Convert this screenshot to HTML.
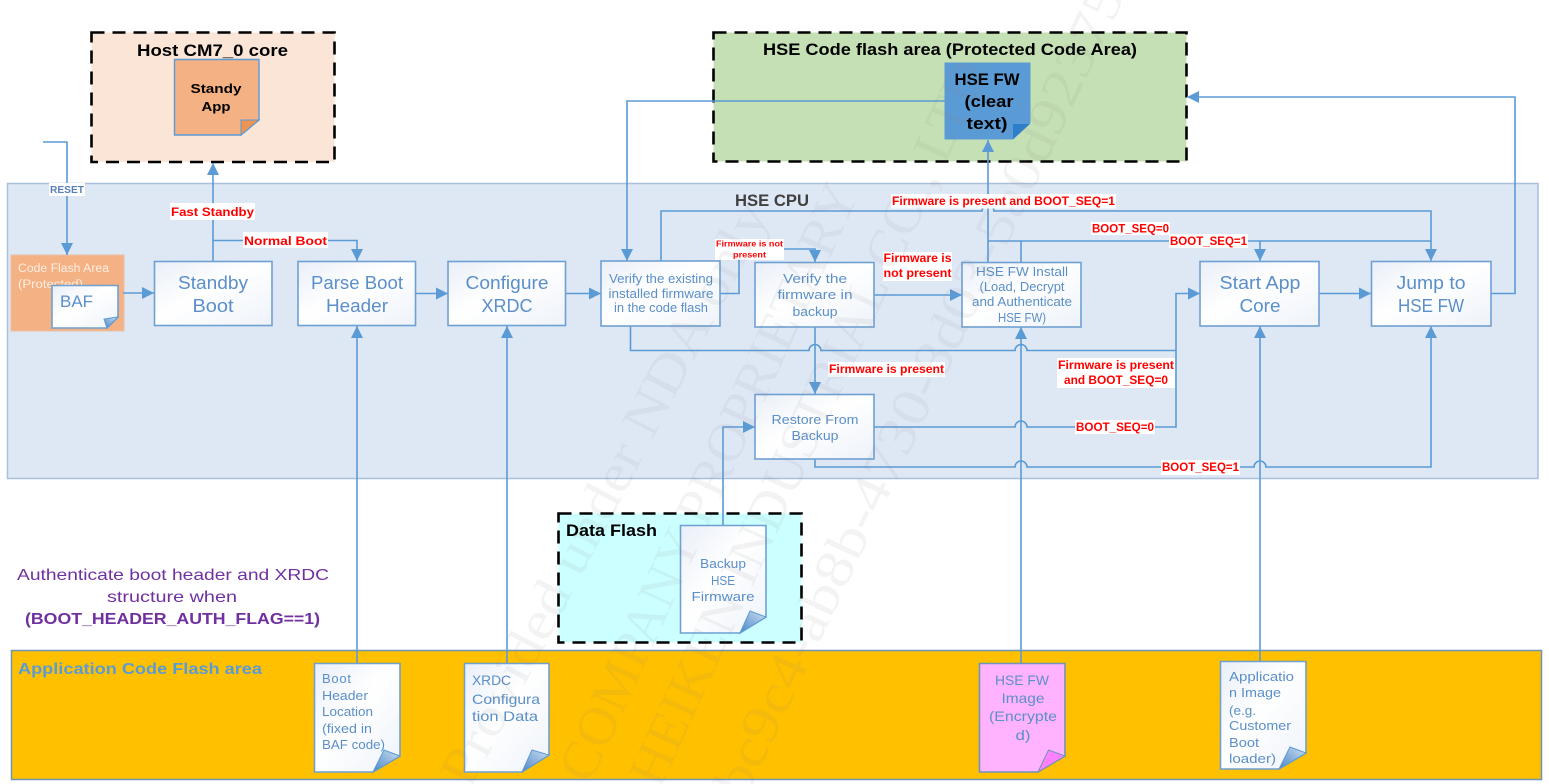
<!DOCTYPE html>
<html>
<head>
<meta charset="utf-8">
<style>
html,body{margin:0;padding:0;background:#fff;width:1549px;height:784px;overflow:hidden}
svg{display:block}
text{font-family:"Liberation Sans",sans-serif}
.b{fill:#5b8fc9;text-anchor:middle}
.r{fill:#f00;font-weight:bold;text-anchor:middle;font-size:11.5px}
.w{fill:#fff}
.l{fill:none;stroke:#5b9bd5;stroke-width:1.6}
.box{fill:url(#g);stroke:#6fa0d2;stroke-width:1.6}
.wm{font-family:"Liberation Serif",serif;fill:#808080;font-size:54px}
</style>
</head>
<body>
<svg width="1549" height="784" viewBox="0 0 1549 784" xmlns="http://www.w3.org/2000/svg">
<defs>
<linearGradient id="g" x1="0" y1="0" x2="1" y2="1"><stop offset="0" stop-color="#e9eff8"/><stop offset=".45" stop-color="#fff"/><stop offset="1" stop-color="#eef3fa"/></linearGradient>
<linearGradient id="f" x1="0" y1="1" x2="1" y2="0"><stop offset="0" stop-color="#4a86c5"/><stop offset="1" stop-color="#cfe0f2"/></linearGradient>
<marker id="a" markerUnits="userSpaceOnUse" markerWidth="13" markerHeight="13" refX="12" refY="6.5" orient="auto"><path d="M0 0.5L12 6.5L0 12.5z" fill="#5b9bd5"/></marker>
</defs>

<!-- containers -->
<rect x="7.5" y="183.5" width="1530.5" height="295" fill="#dee8f5" stroke="#a9bfdc" stroke-width="1.5"/>
<rect x="91.5" y="32.5" width="243" height="129.5" fill="#fbe5d6" stroke="#000" stroke-width="2.6" stroke-dasharray="13 8"/>
<rect x="713.5" y="32.5" width="473" height="129" fill="#c5e0b4" stroke="#000" stroke-width="2.6" stroke-dasharray="13 8"/>
<rect x="558.5" y="513.5" width="243" height="129" fill="#ccffff" stroke="#000" stroke-width="2.6" stroke-dasharray="13 8"/>
<rect x="11.5" y="650.5" width="1530" height="129" fill="#ffc000" stroke="#6f94b8" stroke-width="1.5"/>

<text x="137" y="56" font-size="16.5" font-weight="bold" textLength="151" lengthAdjust="spacingAndGlyphs">Host CM7_0 core</text>
<text x="763" y="55" font-size="16.5" font-weight="bold" textLength="374" lengthAdjust="spacingAndGlyphs">HSE Code flash area (Protected Code Area)</text>
<text x="735" y="206" font-size="16.5" font-weight="bold" fill="#404040" textLength="74" lengthAdjust="spacingAndGlyphs">HSE CPU</text>
<text x="566" y="536" font-size="16.5" font-weight="bold" textLength="91" lengthAdjust="spacingAndGlyphs">Data Flash</text>
<text x="18" y="674" font-size="15.5" font-weight="bold" fill="#5b9bd5" textLength="244" lengthAdjust="spacingAndGlyphs">Application Code Flash area</text>

<!-- code flash -->
<rect x="11" y="255" width="113" height="76" fill="#f4b183" stroke="#e7c1a5"/>
<text x="18" y="272" font-size="11.5" fill="#fdeee3" textLength="91" lengthAdjust="spacingAndGlyphs">Code Flash Area</text>
<text x="18" y="288" font-size="11.5" fill="#fdeee3" textLength="65" lengthAdjust="spacingAndGlyphs">(Protected)</text>

<!-- connectors -->
<path class="l" d="M43 142H67V255" marker-end="url(#a)"/>
<path class="l" d="M123 293H154" marker-end="url(#a)"/>
<path class="l" d="M213 261V163" marker-end="url(#a)"/>
<path class="l" d="M213 240.500H357V261" marker-end="url(#a)"/>
<path class="l" d="M415 293.500H448" marker-end="url(#a)"/>
<path class="l" d="M565 293.500H601" marker-end="url(#a)"/>
<path class="l" d="M661 261V211H982a6 6 0 0 1 12 0H1431V261" marker-end="url(#a)"/>
<path class="l" d="M945 101H627V261" marker-end="url(#a)"/>
<path class="l" d="M720 293.500H739V249H815V262" marker-end="url(#a)"/>
<path class="l" d="M630.500 326V350.500H809a6 6 0 0 1 12 0H1015a6 6 0 0 1 12 0H1176"/>
<path class="l" d="M815 327V394" marker-end="url(#a)"/>
<path class="l" d="M874 295H962" marker-end="url(#a)"/>
<path class="l" d="M988 262V140" marker-end="url(#a)"/>
<path class="l" d="M988 241H1431"/>
<path class="l" d="M1021 262V241"/>
<path class="l" d="M1260 241V261" marker-end="url(#a)"/>
<path class="l" d="M874 427H1015a6 6 0 0 1 12 0H1176V293.500H1200" marker-end="url(#a)"/>
<path class="l" d="M815 459V467H1015a6 6 0 0 1 12 0H1254a6 6 0 0 1 12 0H1431V326" marker-end="url(#a)"/>
<path class="l" d="M1319 293.500H1371" marker-end="url(#a)"/>
<path class="l" d="M1491 293.500H1515V97H1187" marker-end="url(#a)"/>
<path class="l" d="M357 664V326" marker-end="url(#a)"/>
<path class="l" d="M507 664V326" marker-end="url(#a)"/>
<path class="l" d="M1021 663V327" marker-end="url(#a)"/>
<path class="l" d="M1260 661V326" marker-end="url(#a)"/>
<path class="l" d="M723 525V427H755" marker-end="url(#a)"/>

<!-- process boxes -->
<rect class="box" x="154.500" y="261.500" width="117.500" height="64"/>
<text class="b" x="213" y="289" font-size="18" textLength="70" lengthAdjust="spacingAndGlyphs">Standby</text>
<text class="b" x="213" y="312" font-size="18" textLength="41" lengthAdjust="spacingAndGlyphs">Boot</text>
<rect class="box" x="298" y="261.500" width="117.500" height="64"/>
<text class="b" x="357" y="289" font-size="18" textLength="92" lengthAdjust="spacingAndGlyphs">Parse Boot</text>
<text class="b" x="357" y="312" font-size="18" textLength="62" lengthAdjust="spacingAndGlyphs">Header</text>
<rect class="box" x="448" y="261.500" width="117.500" height="64"/>
<text class="b" x="507" y="289" font-size="18" textLength="83" lengthAdjust="spacingAndGlyphs">Configure</text>
<text class="b" x="507" y="312" font-size="18" textLength="51" lengthAdjust="spacingAndGlyphs">XRDC</text>
<rect class="box" x="601" y="261" width="119" height="65"/>
<text class="b" x="661" y="283" font-size="12.500" textLength="104" lengthAdjust="spacingAndGlyphs">Verify the existing</text>
<text class="b" x="661" y="298" font-size="12.500" textLength="105" lengthAdjust="spacingAndGlyphs">installed firmware</text>
<text class="b" x="661" y="312" font-size="12.500" textLength="94" lengthAdjust="spacingAndGlyphs">in the code flash</text>
<rect class="box" x="755" y="262.500" width="119" height="64.500"/>
<text class="b" x="815" y="283" font-size="13" textLength="64" lengthAdjust="spacingAndGlyphs">Verify the</text>
<text class="b" x="815" y="299" font-size="13" textLength="75" lengthAdjust="spacingAndGlyphs">firmware in</text>
<text class="b" x="815" y="316" font-size="13" textLength="45" lengthAdjust="spacingAndGlyphs">backup</text>
<rect class="box" x="755" y="394.500" width="119" height="64.500"/>
<text class="b" x="815" y="424" font-size="13" textLength="87" lengthAdjust="spacingAndGlyphs">Restore From</text>
<text class="b" x="815" y="440" font-size="13" textLength="47" lengthAdjust="spacingAndGlyphs">Backup</text>
<rect class="box" x="962" y="262.500" width="119" height="64.500"/>
<text class="b" x="1022" y="276" font-size="12.500" textLength="92" lengthAdjust="spacingAndGlyphs">HSE FW Install</text>
<text class="b" x="1022" y="291" font-size="12.500" textLength="85" lengthAdjust="spacingAndGlyphs">(Load, Decrypt</text>
<text class="b" x="1022" y="306" font-size="12.500" textLength="100" lengthAdjust="spacingAndGlyphs">and Authenticate</text>
<text class="b" x="1022" y="322" font-size="12.500" textLength="48" lengthAdjust="spacingAndGlyphs">HSE FW)</text>
<rect class="box" x="1200" y="261.500" width="119" height="64.500"/>
<text class="b" x="1260" y="289" font-size="18" textLength="81" lengthAdjust="spacingAndGlyphs">Start App</text>
<text class="b" x="1260" y="312" font-size="18" textLength="41" lengthAdjust="spacingAndGlyphs">Core</text>
<rect class="box" x="1371.500" y="261.500" width="119.500" height="64.500"/>
<text class="b" x="1431" y="289" font-size="18" textLength="69" lengthAdjust="spacingAndGlyphs">Jump to</text>
<text class="b" x="1431" y="312" font-size="18" textLength="66" lengthAdjust="spacingAndGlyphs">HSE FW</text>

<!-- notes -->
<path d="M174.500 59.500H259V120L241 135H174.500z" fill="#f4b183" stroke="#5b9bd5" stroke-width="1.4"/>
<path d="M241 135V120H259z" fill="#ed9454" stroke="#5b9bd5"/>
<text x="216" y="93" font-size="13" font-weight="bold" text-anchor="middle" textLength="51" lengthAdjust="spacingAndGlyphs">Standy</text>
<text x="216" y="111" font-size="13" font-weight="bold" text-anchor="middle" textLength="29" lengthAdjust="spacingAndGlyphs">App</text>

<path d="M945 63H1030V123L1013 139H945z" fill="#5b9bd5" stroke="#5b9bd5"/>
<path d="M1013 139V124H1030z" fill="#2e7fcb"/>
<text x="987" y="85" font-size="16.500" font-weight="bold" text-anchor="middle" textLength="65" lengthAdjust="spacingAndGlyphs">HSE FW</text>
<text x="989" y="107" font-size="16.500" font-weight="bold" text-anchor="middle" textLength="49" lengthAdjust="spacingAndGlyphs">(clear</text>
<text x="987" y="129" font-size="16.500" font-weight="bold" text-anchor="middle" textLength="41" lengthAdjust="spacingAndGlyphs">text)</text>

<path class="box" d="M52 285.500H118V317L107 328H52z"/>
<path d="M107 328L104 319L118 317z" fill="url(#f)" stroke="#5b9bd5"/>
<text x="60" y="307" font-size="17" fill="#5b8fc9" textLength="33" lengthAdjust="spacingAndGlyphs">BAF</text>

<path class="box" d="M680.500 525.500H766V617L740 633H680.500z"/>
<path d="M740 633L750 611L766 617z" fill="url(#f)" stroke="#5b9bd5"/>
<text class="b" x="723" y="568" font-size="13" textLength="46" lengthAdjust="spacingAndGlyphs">Backup</text>
<text class="b" x="723" y="585" font-size="13" textLength="24" lengthAdjust="spacingAndGlyphs">HSE</text>
<text class="b" x="723" y="601" font-size="13" textLength="63" lengthAdjust="spacingAndGlyphs">Firmware</text>

<path class="box" d="M314.500 663.500H400V756L373 772H314.500z"/>
<path d="M373 772L384 750L400 756z" fill="url(#f)" stroke="#5b9bd5"/>
<text x="322" y="683" font-size="13" fill="#5b8fc9" textLength="29" lengthAdjust="spacing">Boot</text>
<text x="322" y="700" font-size="13" fill="#5b8fc9" textLength="46" lengthAdjust="spacingAndGlyphs">Header</text>
<text x="322" y="716" font-size="13" fill="#5b8fc9" textLength="51" lengthAdjust="spacingAndGlyphs">Location</text>
<text x="322" y="733" font-size="13" fill="#5b8fc9" textLength="50" lengthAdjust="spacingAndGlyphs">(fixed in</text>
<text x="322" y="749" font-size="13" fill="#5b8fc9" textLength="63" lengthAdjust="spacingAndGlyphs">BAF code)</text>

<path class="box" d="M464.500 663.500H549V755L522 772H464.500z"/>
<path d="M522 772L532 750L549 755z" fill="url(#f)" stroke="#5b9bd5"/>
<text x="472" y="685" font-size="14" fill="#5b8fc9" textLength="39" lengthAdjust="spacingAndGlyphs">XRDC</text>
<text x="472" y="704" font-size="14" fill="#5b8fc9" textLength="68" lengthAdjust="spacingAndGlyphs">Configura</text>
<text x="472" y="721" font-size="14" fill="#5b8fc9" textLength="66" lengthAdjust="spacingAndGlyphs">tion Data</text>

<path d="M979.500 663.500H1065V756L1038 772H979.500z" fill="#ffb3ff" stroke="#6f94b8" stroke-width="1.6"/>
<path d="M1038 772L1048.500 750L1065 756z" fill="#ff80ff" stroke="#6f94b8"/>
<text class="b" x="1022" y="685" font-size="14" textLength="54" lengthAdjust="spacingAndGlyphs">HSE FW</text>
<text class="b" x="1023" y="703" font-size="14" textLength="43" lengthAdjust="spacingAndGlyphs">Image</text>
<text class="b" x="1023" y="721" font-size="14" textLength="68" lengthAdjust="spacingAndGlyphs">(Encrypte</text>
<text class="b" x="1023" y="740" font-size="14" textLength="15" lengthAdjust="spacingAndGlyphs">d)</text>

<path class="box" d="M1220.500 661.500H1306V753L1279 769H1220.500z"/>
<path d="M1279 769L1290 747L1306 753z" fill="url(#f)" stroke="#5b9bd5"/>
<text x="1229" y="681" font-size="13" fill="#5b8fc9" textLength="65" lengthAdjust="spacingAndGlyphs">Applicatio</text>
<text x="1229" y="697" font-size="13" fill="#5b8fc9" textLength="52" lengthAdjust="spacingAndGlyphs">n Image</text>
<text x="1229" y="715" font-size="13" fill="#5b8fc9" textLength="27" lengthAdjust="spacingAndGlyphs">(e.g.</text>
<text x="1229" y="730" font-size="13" fill="#5b8fc9" textLength="62" lengthAdjust="spacingAndGlyphs">Customer</text>
<text x="1229" y="747" font-size="13" fill="#5b8fc9" textLength="30" lengthAdjust="spacingAndGlyphs">Boot</text>
<text x="1229" y="763" font-size="13" fill="#5b8fc9" textLength="47" lengthAdjust="spacingAndGlyphs">loader)</text>

<!-- connector labels -->
<rect class="w" x="49" y="183" width="36" height="13"/>
<text x="67" y="193" font-size="10.500" font-weight="bold" fill="#5b80b8" text-anchor="middle" textLength="34" lengthAdjust="spacingAndGlyphs">RESET</text>
<rect class="w" x="170" y="203" width="85" height="17"/>
<text class="r" x="212.500" y="216" textLength="83" lengthAdjust="spacingAndGlyphs">Fast Standby</text>
<rect class="w" x="243" y="232" width="85" height="16"/>
<text class="r" x="285.500" y="245" textLength="83" lengthAdjust="spacingAndGlyphs">Normal Boot</text>
<rect class="w" x="891" y="194" width="225" height="14.500"/>
<text class="r" x="1003.500" y="205" textLength="223" lengthAdjust="spacingAndGlyphs">Firmware is present and BOOT_SEQ=1</text>
<rect class="w" x="715" y="239" width="69" height="21"/>
<text class="r" x="749.500" y="246.500" style="font-size:8px" textLength="67" lengthAdjust="spacingAndGlyphs">Firmware is not</text>
<text class="r" x="749.500" y="257.500" style="font-size:8px" textLength="33" lengthAdjust="spacingAndGlyphs">present</text>
<rect class="w" x="883" y="252" width="69" height="29"/>
<text class="r" x="917.500" y="262" textLength="68" lengthAdjust="spacingAndGlyphs">Firmware is</text>
<text class="r" x="917.500" y="277" textLength="68" lengthAdjust="spacingAndGlyphs">not present</text>
<rect class="w" x="1091" y="222" width="79" height="13"/>
<text class="r" x="1130.500" y="232.500" textLength="77" lengthAdjust="spacingAndGlyphs">BOOT_SEQ=0</text>
<rect class="w" x="1169" y="234" width="79" height="14"/>
<text class="r" x="1208.500" y="245" textLength="77" lengthAdjust="spacingAndGlyphs">BOOT_SEQ=1</text>
<rect class="w" x="828" y="362" width="117" height="15"/>
<text class="r" x="886.500" y="373" textLength="115" lengthAdjust="spacingAndGlyphs">Firmware is present</text>
<rect class="w" x="1057" y="358" width="118" height="30"/>
<text class="r" x="1116" y="369" textLength="116" lengthAdjust="spacingAndGlyphs">Firmware is present</text>
<text class="r" x="1116" y="384" textLength="104" lengthAdjust="spacingAndGlyphs">and BOOT_SEQ=0</text>
<rect class="w" x="1075" y="420" width="80" height="14"/>
<text class="r" x="1115" y="431" textLength="78" lengthAdjust="spacingAndGlyphs">BOOT_SEQ=0</text>
<rect class="w" x="1161" y="460" width="79" height="15"/>
<text class="r" x="1200.500" y="471" textLength="77" lengthAdjust="spacingAndGlyphs">BOOT_SEQ=1</text>

<!-- side note -->
<text x="173" y="580" font-size="16" fill="#7030a0" text-anchor="middle" textLength="312" lengthAdjust="spacingAndGlyphs">Authenticate boot header and XRDC</text>
<text x="172" y="602" font-size="16" fill="#7030a0" text-anchor="middle" textLength="130" lengthAdjust="spacingAndGlyphs">structure when</text>
<text x="172.500" y="624" font-size="16" font-weight="bold" fill="#7030a0" text-anchor="middle" textLength="295" lengthAdjust="spacingAndGlyphs">(BOOT_HEADER_AUTH_FLAG==1)</text>

<!-- watermark -->
<g opacity=".085">
<text class="wm" transform="translate(470 790) rotate(-62.500)" textLength="650" lengthAdjust="spacingAndGlyphs">Provided under NDA only</text>
<text class="wm" transform="translate(590 785) rotate(-65.500)" textLength="650" lengthAdjust="spacingAndGlyphs">COMPANY PROPRIETARY</text>
<text class="wm" transform="translate(660 790) rotate(-65.500)" textLength="790" lengthAdjust="spacingAndGlyphs">HEIKEN INDUSTRIAL CO., LTD</text>
<text class="wm" transform="translate(745 800) rotate(-64.700)" textLength="890" lengthAdjust="spacingAndGlyphs">bc9c4-ab8b-4730-8d03-5a0d92375</text>
</g>
</svg>
</body>
</html>
